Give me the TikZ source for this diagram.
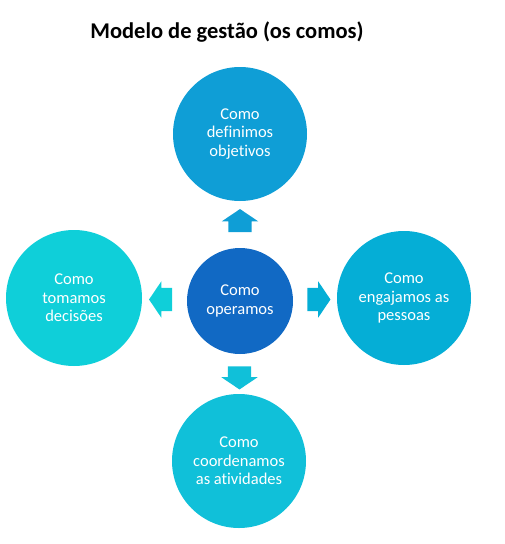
\documentclass[tikz,border=0pt]{standalone}
\usepackage{fontspec}
\setmainfont{Carlito}[Ligatures=NoCommon]
\usepackage{xcolor}
\usepackage{tikz}
\usetikzlibrary{shapes.arrows,positioning,calc}

\definecolor{cTop}{HTML}{0F9ED6}
\definecolor{cMid}{HTML}{1169C4}
\definecolor{cLeft}{HTML}{0FCFD9}
\definecolor{cRight}{HTML}{05AED6}
\definecolor{cBot}{HTML}{10C0D9}

\begin{document}
\begin{tikzpicture}[
  x=1pt, y=-1pt,
  font=\fontsize{16.5}{18.5}\selectfont,
  disc/.style={circle, inner sep=0pt, align=center, text=white, minimum size=134pt},
  blockarr/.style={single arrow, inner sep=0pt, text height=23pt, text depth=0pt,
    minimum height=23pt, single arrow head extend=6.5pt, single arrow tip angle=112}
]
\useasboundingbox (0,0) rectangle (504,544);
\node[font=\fontsize{22.5}{26}\bfseries] (title) at (227,32) {Modelo de gestão (os comos)};
\node[disc, fill=cTop] (top) at (240,134) {Como\\definimos\\objetivos};
\node[disc, fill=cMid, minimum size=106pt] (mid) at (240,301) {Como\\operamos};
\node[disc, fill=cLeft, minimum size=136pt] (left) at (74,298) {Como\\tomamos\\decisões};
\node[disc, fill=cRight] (right) at (404,298) {Como\\engajamos as\\pessoas};
\node[disc, fill=cBot] (bot) at (239,461) {Como\\coordenamos\\as atividades};
% arrows between the circles
\node[blockarr, fill=cTop, rotate=90] (aTop) at ($(mid.north)!0.5!(top.south)$) {};
\node[blockarr, fill=cLeft, rotate=180] (aLeft) at ($(mid.west)!0.5!(left.east)$) {};
\node[blockarr, fill=cRight] (aRight) at ($(mid.east)!0.5!(right.west)$) {};
\node[blockarr, fill=cBot, rotate=270] (aBot) at ($(mid.south)!0.5!(bot.north)$) {};
\end{tikzpicture}
\end{document}
